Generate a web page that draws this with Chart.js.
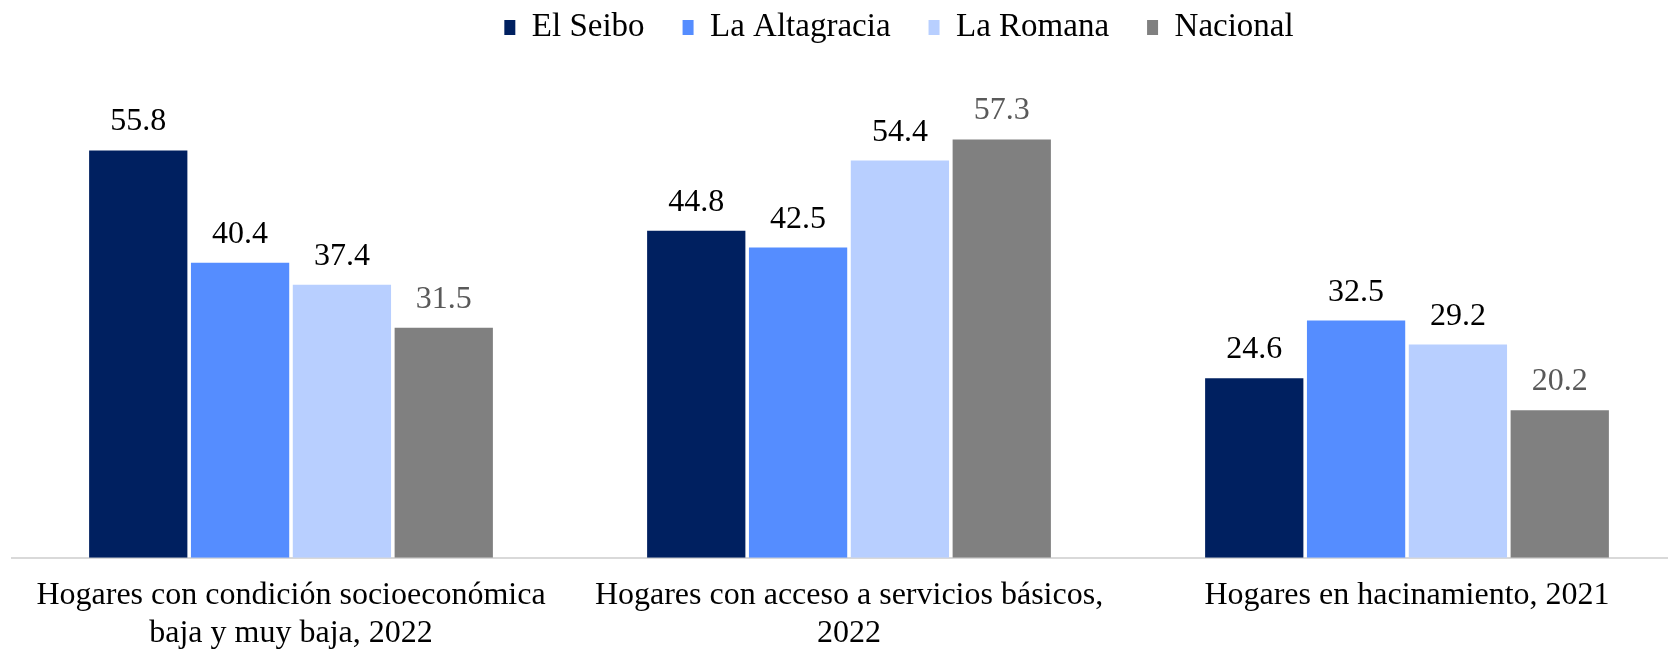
<!DOCTYPE html>
<html lang="es">
<head>
    <meta charset="UTF-8">
    <script src="https://cdn.jsdelivr.net/npm/chart.js"></script>
    <title>Hogares</title>
    <style>
        html, body {
            margin: 0;
            padding: 0;
            overflow: hidden;
            background: #ffffff;
        }

        .chart-container {
            width: 1690px;
            height: 672px;
        }
    </style>
</head>
<body>
    <div class="chart-container">
        <canvas id="myChart"></canvas>
    </div>

    <script>
        // Categories (multi-line tick labels)
        const categories = [
            ['Hogares con condición socioeconómica', 'baja y muy baja, 2022'],
            ['Hogares con acceso a servicios básicos,', '2022'],
            ['Hogares en hacinamiento, 2021']
        ];

        // Series values (%)
        const elSeibo = [55.8, 44.8, 24.6];
        const laAltagracia = [40.4, 42.5, 32.5];
        const laRomana = [37.4, 54.4, 29.2];
        const nacional = [31.5, 57.3, 20.2];

        const seriesNames = ['El Seibo', 'La Altagracia', 'La Romana', 'Nacional'];
        const seriesColors = ['#002060', '#558dff', '#b8cfff', '#808080'];
        const labelColors = ['#000000', '#000000', '#000000', '#595959'];

        const FONT = '"Liberation Serif", "Times New Roman", serif';

        // Draw the value above each bar
        const valueLabels = {
            id: 'valueLabels',
            afterDatasetsDraw(chart) {
                const ctx = chart.ctx;
                ctx.save();
                ctx.font = '32px ' + FONT;
                ctx.textAlign = 'center';
                ctx.textBaseline = 'alphabetic';
                chart.data.datasets.forEach((ds, i) => {
                    const meta = chart.getDatasetMeta(i);
                    ctx.fillStyle = labelColors[i];
                    meta.data.forEach((bar, j) => {
                        ctx.fillText(ds.data[j].toFixed(1), bar.x, bar.y - 20);
                    });
                });
                ctx.restore();
            }
        };

        // The legend in the original sits a bit right of centre
        const legendShift = {
            id: 'legendShift',
            afterLayout(chart) {
                chart.legend.left += 50;
                chart.legend.right += 50;
            }
        };

        const allSeries = [elSeibo, laAltagracia, laRomana, nacional];

        const ctx = document.getElementById('myChart').getContext('2d');
        new Chart(ctx, {
            type: 'bar',
            data: {
                labels: categories,
                datasets: allSeries.map((data, i) => ({
                    label: seriesNames[i],
                    data: data,
                    backgroundColor: seriesColors[i],
                    borderWidth: 0,
                    categoryPercentage: 0.73,
                    barPercentage: 0.965
                }))
            },
            options: {
                responsive: true,
                maintainAspectRatio: false,
                animation: false,
                layout: {
                    padding: {top: -27, left: 12, right: 4, bottom: 0}
                },
                plugins: {
                    legend: {
                        position: 'top',
                        labels: {
                            font: {family: FONT, size: 33},
                            color: '#000000',
                            boxWidth: 11,
                            boxHeight: 15,
                            padding: 38
                        }
                    },
                    tooltip: {enabled: false}
                },
                scales: {
                    x: {
                        grid: {display: false, drawTicks: false},
                        border: {display: true, color: '#d9d9d9', width: 2},
                        ticks: {
                            font: {family: FONT, size: 32, lineHeight: 1.19},
                            color: '#000000',
                            padding: 19,
                            maxRotation: 0,
                            autoSkip: false
                        }
                    },
                    y: {
                        display: false,
                        min: 0,
                        max: 69
                    }
                }
            },
            plugins: [valueLabels, legendShift]
        });
    </script>
</body>
</html>
